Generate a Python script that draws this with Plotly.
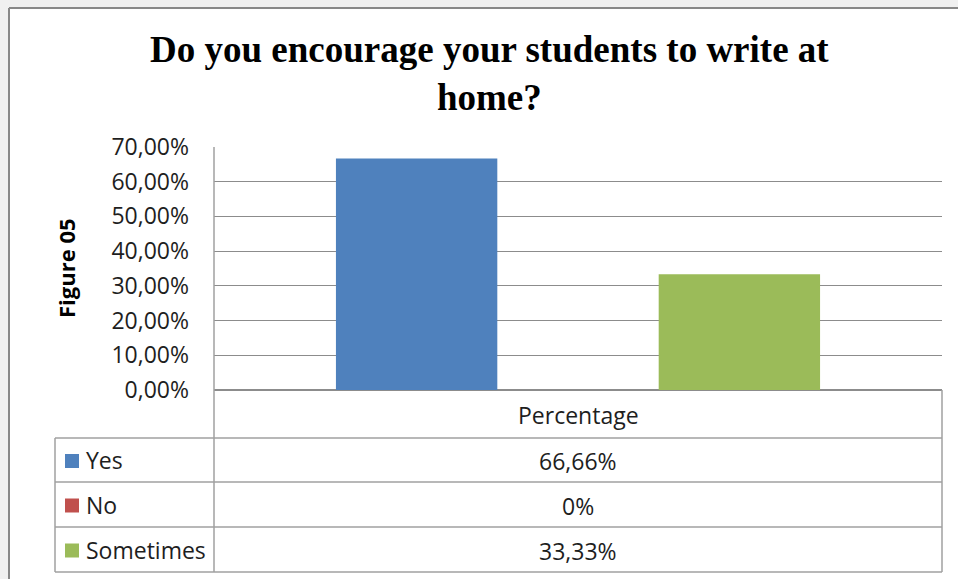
import plotly.graph_objects as go

# Survey data
categories = ["Percentage"]
series_names = ["Yes", "No", "Sometimes"]
series_values = [0.6666, 0.0, 0.3333]
series_colors = ["#4F81BD", "#C0504D", "#9BBB59"]
y_tick_values = [0, 0.1, 0.2, 0.3, 0.4, 0.5, 0.6, 0.7]

title_text = "Do you encourage your students to write at<br>home?"
y_axis_title = "Figure 05"

W, H = 958, 579


def px(x):
    return x / W


def py(y):
    return 1 - y / H


def pct_label(v):
    if v == 0:
        return "0%"
    return f"{v * 100:.2f}".replace(".", ",") + "%"


# Plot area and table geometry (pixels)
PL, PR, PT, PB = 214, 942, 147, 390
TAB_LEFT = 55
ROW_EDGES = [390, 438, 482, 527, 572]

TEXT = "#1E1E1E"
FONT = "Open Sans"
FS = 23

fig = go.Figure()
for name, val, col in zip(series_names, series_values, series_colors):
    fig.add_trace(go.Bar(
        x=categories, y=[val], name=name,
        marker=dict(color=col, line=dict(width=0)),
        showlegend=False, hoverinfo="name+y",
    ))

GRID = "#8C8C8C"
TABLE = "#A0A0A0"
shapes = []
# white chart background with frame on left and top
shapes.append(dict(type="rect", xref="paper", yref="paper",
                   x0=px(9), x1=px(970), y0=py(600), y1=py(8),
                   fillcolor="white", line=dict(width=0), layer="below"))
shapes.append(dict(type="line", xref="paper", yref="paper",
                   x0=px(9), x1=px(9), y0=py(8), y1=py(600),
                   line=dict(color="#888888", width=2)))
shapes.append(dict(type="line", xref="paper", yref="paper",
                   x0=px(9), x1=px(970), y0=py(8), y1=py(8),
                   line=dict(color="#888888", width=2)))
# vertical lines of axis and data table
shapes.append(dict(type="line", xref="paper", yref="paper",
                   x0=px(PL), x1=px(PL), y0=py(PT), y1=py(ROW_EDGES[-1]),
                   line=dict(color=TABLE, width=1.5)))
shapes.append(dict(type="line", xref="paper", yref="paper",
                   x0=px(PR), x1=px(PR), y0=py(PB), y1=py(ROW_EDGES[-1]),
                   line=dict(color=TABLE, width=1.5)))
shapes.append(dict(type="line", xref="paper", yref="paper",
                   x0=px(TAB_LEFT), x1=px(TAB_LEFT), y0=py(ROW_EDGES[1]), y1=py(ROW_EDGES[-1]),
                   line=dict(color=TABLE, width=1.5)))
for ye in ROW_EDGES[1:]:
    shapes.append(dict(type="line", xref="paper", yref="paper",
                       x0=px(TAB_LEFT), x1=px(PR), y0=py(ye), y1=py(ye),
                       line=dict(color=TABLE, width=1.5)))

annotations = []
annotations.append(dict(
    text=f"<b>{title_text}</b>", xref="paper", yref="paper", x=px(489), y=py(74),
    xanchor="center", yanchor="middle", showarrow=False,
    font=dict(family="Liberation Serif", size=37, color="black"),
))
annotations.append(dict(
    text=f"<b>{y_axis_title}</b>", xref="paper", yref="paper", x=px(66), y=py(268),
    xanchor="center", yanchor="middle", showarrow=False, textangle=-90,
    font=dict(family=FONT, size=22, color="black"),
))
# table header
annotations.append(dict(
    text=categories[0], xref="paper", yref="paper", x=px((PL + PR) / 2),
    y=py((ROW_EDGES[0] + ROW_EDGES[1]) / 2 + 1), xanchor="center", yanchor="middle",
    showarrow=False, font=dict(family=FONT, size=FS, color=TEXT),
))
for i, (name, val, col) in enumerate(zip(series_names, series_values, series_colors)):
    yc = (ROW_EDGES[i + 1] + ROW_EDGES[i + 2]) / 2
    shapes.append(dict(type="rect", xref="paper", yref="paper",
                       x0=px(65), x1=px(79), y0=py(yc - 6), y1=py(yc + 8),
                       fillcolor=col, line=dict(width=0)))
    annotations.append(dict(
        text=name, xref="paper", yref="paper", x=px(84), y=py(yc),
        xanchor="left", yanchor="middle", showarrow=False,
        font=dict(family=FONT, size=FS, color=TEXT),
    ))
    annotations.append(dict(
        text=pct_label(val), xref="paper", yref="paper", x=px((PL + PR) / 2), y=py(yc + 1),
        xanchor="center", yanchor="middle", showarrow=False,
        font=dict(family=FONT, size=FS, color=TEXT),
    ))

fig.update_layout(
    width=W, height=H,
    margin=dict(l=0, r=0, t=0, b=0, autoexpand=False),
    paper_bgcolor="#F0F0F0",
    plot_bgcolor="white",
    barmode="group",
    bargap=0.335,
    bargroupgap=0,
    separators=", ",
    shapes=shapes,
    annotations=annotations,
    xaxis=dict(domain=[px(PL), px(PR)], showticklabels=False, showgrid=False,
               zeroline=False, showline=False, ticks="", automargin=False),
    yaxis=dict(domain=[py(PB), py(PT)], range=[0, 0.7], tickvals=y_tick_values,
               tickformat=".2%", showgrid=True, gridcolor=GRID, gridwidth=1,
               zeroline=True, zerolinecolor=GRID, zerolinewidth=1.5,
               showline=False, ticks="", ticklen=0, automargin=False,
               tickfont=dict(family=FONT, size=FS, color=TEXT)),
)
fig.update_yaxes(ticklabelstandoff=24)

fig.write_html("out.html")
